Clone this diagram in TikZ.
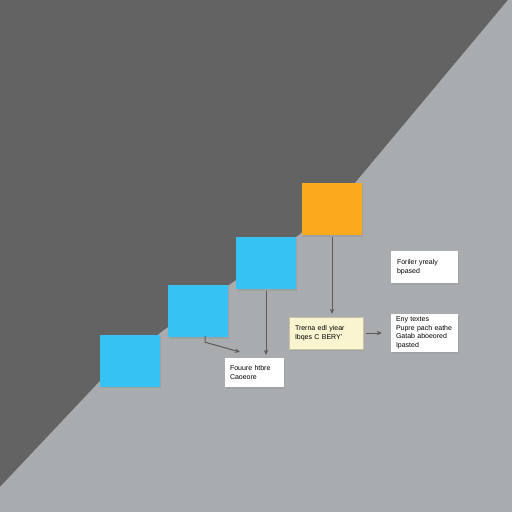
\documentclass[tikz,border=0pt]{standalone}
\usepackage{fontspec}
\setmainfont{Liberation Sans}
\usetikzlibrary{arrows.meta,shadows}

\definecolor{bgdark}{HTML}{636363}
\definecolor{bglight}{HTML}{A9ACAF}
\definecolor{stepblue}{HTML}{36C2F3}
\definecolor{steporange}{HTML}{FBAA1E}
\definecolor{noteyellow}{HTML}{FBF4D0}
\definecolor{arrowgray}{HTML}{5A5A5A}

\tikzset{
  tile/.style={minimum width=60pt,minimum height=52pt,inner sep=0pt,
    drop shadow={shadow xshift=1pt,shadow yshift=-1.5pt,opacity=0.25}},
  note/.style={fill=white,align=left,inner sep=0pt,font=\fontsize{7}{8.5}\selectfont,
    drop shadow={shadow xshift=1pt,shadow yshift=-1.5pt,opacity=0.2}},
  link/.style={draw=arrowgray,line width=1pt,-{Stealth[length=5pt,width=4.5pt]}}
}

\begin{document}
\begin{tikzpicture}[x=1pt,y=-1pt]
\useasboundingbox (0,0) rectangle (512,512);
\fill[bgdark] (0,0) rectangle (512,512);
\fill[bglight] (0,487) -- (100,381) -- (164,330) -- (232,283) -- (299,235) -- (355,183)
  -- (508,0) -- (512,0) -- (512,512) -- (0,512) -- cycle;

% steps
\node[tile,fill=stepblue] (b1) at (130,360.5) {};
\node[tile,fill=stepblue] (b2) at (198,311) {};
\node[tile,fill=stepblue] (b3) at (266,263) {};
\node[tile,fill=steporange] (or) at (332,209) {};

% notes
\node[note,minimum width=59pt,minimum height=29pt,text width=49pt] (wa) at (254.5,372.5) {Fouure htbre\\Caoeore};
\node[note,fill=noteyellow,draw=noteyellow!80!black,line width=0.3pt,minimum width=74pt,minimum height=32pt,text width=62pt] (ye) at (326,333) {Trerna edl yiear\\Ibqes C BERY'};
\node[note,minimum width=67pt,minimum height=32pt,text width=55pt] (wr1) at (424.5,267) {Foriler yrealy\\bpased};
\node[note,minimum width=67pt,minimum height=38pt,text width=57pt] (wr2) at (424.5,333) {Eny textes\\Pupre pach eathe\\Gatab aboeored\\Ipasted};

% connectors
\coordinate (ain) at (240,352);
\draw[link,shorten <=2pt,shorten >=3pt] (or.south) -- (or.south |- ye.north);
\draw[link,shorten <=2pt,shorten >=3pt] (b3.south) -- (b3.south |- wa.north);
\draw[link] ([xshift=7pt,yshift=1pt]b2.south) -- ++(0,6) -- (ain);
\draw[link,shorten <=3pt,shorten >=9pt] (ye.east) -- (wr2.west);
\end{tikzpicture}
\end{document}
